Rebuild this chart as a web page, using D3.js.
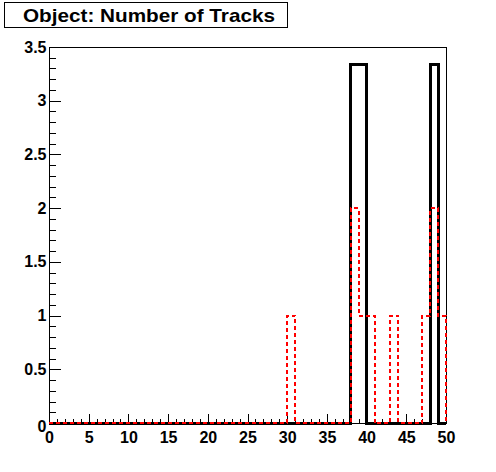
<!DOCTYPE html>
<html>
<head>
<meta charset="utf-8">
<script src="https://cdn.jsdelivr.net/npm/d3@7"></script>
<style>
  body { margin: 0; background: #fff; }
  svg { display: block; }
  .axis line, .axis path { stroke: #000; stroke-width: 1px; shape-rendering: crispEdges; }
</style>
</head>
<body>
<div class="app"></div>
<script>
'use strict'

var fontFamily = "'Liberation Sans', Arial, Helvetica, sans-serif";

// Title
var titleText = "Object: Number of Tracks";

// Bin low edges (width 1), 0..49
var binEdges = d3.range(0, 50);

// Black histogram: bins 38, 39 and 48
var blackValues = [
  0, 0, 0, 0, 0, 0, 0, 0, 0, 0,
  0, 0, 0, 0, 0, 0, 0, 0, 0, 0,
  0, 0, 0, 0, 0, 0, 0, 0, 0, 0,
  0, 0, 0, 0, 0, 0, 0, 0, 3.333, 3.333,
  0, 0, 0, 0, 0, 0, 0, 0, 3.333, 0
];

// Red dotted histogram
var redValues = [
  0, 0, 0, 0, 0, 0, 0, 0, 0, 0,
  0, 0, 0, 0, 0, 0, 0, 0, 0, 0,
  0, 0, 0, 0, 0, 0, 0, 0, 0, 0,
  1, 0, 0, 0, 0, 0, 0, 0, 2, 1,
  1, 0, 0, 1, 0, 0, 0, 1, 2, 1
];

// Tick labels
var xTicks = [0, 5, 10, 15, 20, 25, 30, 35, 40, 45, 50];
var yTicks = [0, 0.5, 1, 1.5, 2, 2.5, 3, 3.5];

// Frame
var frame = { left: 49, right: 446, top: 47, bottom: 423 };

var svg = d3.select(".app")
            .append("svg")
            .attr("width", 496)
            .attr("height", 472)
;

var xScale = d3.scaleLinear().domain([0, 50]).range([frame.left, frame.right]);
var yScale = d3.scaleLinear().domain([0, 3.5]).range([frame.bottom, frame.top]);

// Frame box
svg.append("rect")
   .attr("x", frame.left + 0.5)
   .attr("y", frame.top + 0.5)
   .attr("width", frame.right - frame.left)
   .attr("height", frame.bottom - frame.top)
   .attr("fill", "none")
   .attr("stroke", "#000")
   .attr("shape-rendering", "crispEdges")
;

// X axis, major + minor ticks pointing inward
var xAxis = d3.axisBottom(xScale)
              .tickValues(xTicks)
              .tickSize(-10)
              .tickPadding(8)
              .tickFormat(d3.format("d"));

svg.append("g")
   .attr("class", "axis x-axis")
   .attr("transform", "translate(0," + (frame.bottom + 0.5) + ")")
   .call(xAxis)
   .call(function(g) { g.select(".domain").remove(); })
;

svg.append("g")
   .attr("class", "axis x-minor")
   .attr("transform", "translate(0," + (frame.bottom + 0.5) + ")")
   .call(d3.axisBottom(xScale).tickValues(d3.range(0, 51)).tickSize(-5).tickFormat(""))
   .call(function(g) { g.select(".domain").remove(); })
;

// Y axis
var yAxis = d3.axisLeft(yScale)
              .tickValues(yTicks)
              .tickSize(-11)
              .tickPadding(3)
              .tickFormat(d3.format("~g"));

svg.append("g")
   .attr("class", "axis y-axis")
   .attr("transform", "translate(" + (frame.left + 0.5) + ",0)")
   .call(yAxis)
   .call(function(g) { g.select(".domain").remove(); })
;

svg.append("g")
   .attr("class", "axis y-minor")
   .attr("transform", "translate(" + (frame.left + 0.5) + ",0)")
   .call(d3.axisLeft(yScale).tickValues(d3.range(0, 36).map(function(i) { return i / 10; })).tickSize(-6).tickFormat(""))
   .call(function(g) { g.select(".domain").remove(); })
;

// Tick label font
svg.selectAll(".x-axis, .y-axis")
   .attr("font-family", fontFamily)
   .attr("font-size", 16)
   .attr("font-weight", "bold")
;

// y "0" label sits a little lower in the original
svg.selectAll(".y-axis .tick text").attr("dy", function(d) { return d === 0 ? "0.5em" : "0.32em"; });

// Histogram outline as a step line
function stepPoints(values) {
  var pts = [{ x: 0, y: 0 }];
  binEdges.forEach(function(e, i) { pts.push({ x: e, y: values[i] }); });
  pts.push({ x: 50, y: values[values.length - 1] });
  pts.push({ x: 50, y: 0 });
  return pts;
}

var stepLine = d3.line()
  .curve(d3.curveStepAfter)
  .x(function(d) { return xScale(d.x); })
  .y(function(d) { return yScale(d.y); })
;

svg.append("path")
   .attr("d", stepLine(stepPoints(blackValues)))
   .attr("fill", "none")
   .attr("stroke", "#000")
   .attr("stroke-width", 3)
   .attr("shape-rendering", "crispEdges")
;

svg.append("path")
   .attr("d", stepLine(stepPoints(redValues)))
   .attr("fill", "none")
   .attr("stroke", "#ff0000")
   .attr("stroke-width", 2)
   .attr("stroke-dasharray", "4,3")
   .attr("shape-rendering", "crispEdges")
;

// Title box
svg.append("rect")
   .attr("x", 4.5)
   .attr("y", 2.5)
   .attr("width", 283)
   .attr("height", 25)
   .attr("fill", "#fff")
   .attr("stroke", "#000")
   .attr("shape-rendering", "crispEdges")
;

svg.append("text")
   .attr("x", 23)
   .attr("y", 22)
   .attr("font-family", fontFamily)
   .attr("font-size", 19)
   .attr("font-weight", "bold")
   .attr("textLength", 252)
   .attr("lengthAdjust", "spacingAndGlyphs")
   .text(titleText)
;
</script>
</body>
</html>
